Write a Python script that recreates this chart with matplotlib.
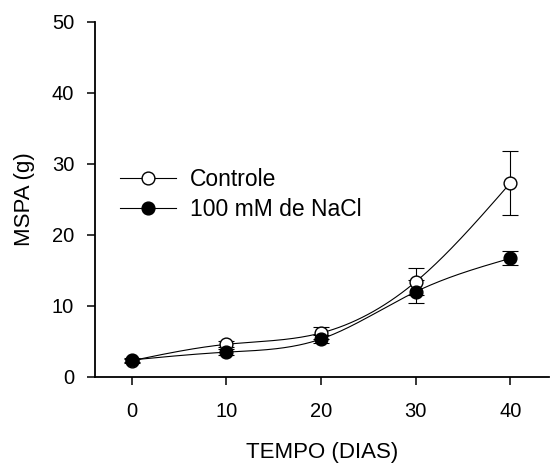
"""MSPA vs tempo, controle x NaCl."""

import numpy as np
import matplotlib
matplotlib.use("Agg")
import matplotlib.pyplot as plt

plt.rcParams["font.family"] = ["Liberation Sans", "DejaVu Sans"]

dias = [0, 10, 20, 30, 40]
controle = [2.3, 4.6, 6.2, 13.4, 27.3]
controle_err = [0.3, 0.4, 0.9, 1.9, 4.5]
nacl = [2.4, 3.5, 5.35, 12.0, 16.7]
nacl_err = [0.3, 0.4, 0.6, 1.6, 1.0]


def smooth(x, y, n=200):
    # natural cubic spline through the points, only for drawing the line
    x = np.asarray(x, float)
    y = np.asarray(y, float)
    h = np.diff(x)
    m = len(x)
    A = np.zeros((m, m))
    b = np.zeros(m)
    A[0, 0] = A[-1, -1] = 1
    for i in range(1, m - 1):
        A[i, i - 1] = h[i - 1]
        A[i, i] = 2 * (h[i - 1] + h[i])
        A[i, i + 1] = h[i]
        b[i] = 6 * ((y[i + 1] - y[i]) / h[i] - (y[i] - y[i - 1]) / h[i - 1])
    M = np.linalg.solve(A, b)
    xs = np.linspace(x[0], x[-1], n)
    idx = np.clip(np.searchsorted(x, xs) - 1, 0, m - 2)
    x0, x1 = x[idx], x[idx + 1]
    hh = x1 - x0
    t0, t1 = x1 - xs, xs - x0
    ys = (M[idx] * t0 ** 3 + M[idx + 1] * t1 ** 3) / (6 * hh) \
        + (y[idx] / hh - M[idx] * hh / 6) * t0 \
        + (y[idx + 1] / hh - M[idx + 1] * hh / 6) * t1
    return xs, ys


fig = plt.figure(figsize=(5.51, 4.66), dpi=100)
ax = fig.add_axes([0.1724, 0.191, 0.824, 0.762])

for yv, err, face, lab in [(controle, controle_err, "white", "Controle"),
                           (nacl, nacl_err, "black", "100 mM de NaCl")]:
    xs, ys = smooth(dias, yv)
    ax.plot(xs, ys, color="black", linewidth=0.8, zorder=2)
    ax.errorbar(dias, yv, yerr=err, fmt="none", ecolor="black",
                elinewidth=0.8, capsize=5.5, capthick=0.8, zorder=3)
    ax.plot(dias, yv, "o", color="black", markerfacecolor=face,
            markersize=9.2, markeredgewidth=1.0, zorder=4)
    ax.plot([], [], "-o", color="black", markerfacecolor=face,
            markersize=9.2, linewidth=0.8, label=lab)

ax.set_xlim(-3.9, 44.1)
ax.set_ylim(0, 50)
ax.set_xticks(dias)
ax.set_yticks([0, 10, 20, 30, 40, 50])

for s in ["top", "right"]:
    ax.spines[s].set_visible(False)
for s in ["left", "bottom"]:
    ax.spines[s].set_linewidth(1.3)

ax.tick_params(direction="out", length=6, width=1.1, labelsize=14.5, pad=9)
ax.tick_params(axis="x", pad=12)

ax.set_xlabel("TEMPO (DIAS)", fontsize=16, labelpad=15)
ax.set_ylabel("MSPA (g)", fontsize=16, labelpad=12)

ax.legend(loc="center left", bbox_to_anchor=(0.055, 0.513), frameon=False,
          fontsize=16.5, handlelength=2.45, handletextpad=0.6, labelspacing=0.3,
          borderpad=0, borderaxespad=0)

fig.savefig("out.png", dpi=100)
